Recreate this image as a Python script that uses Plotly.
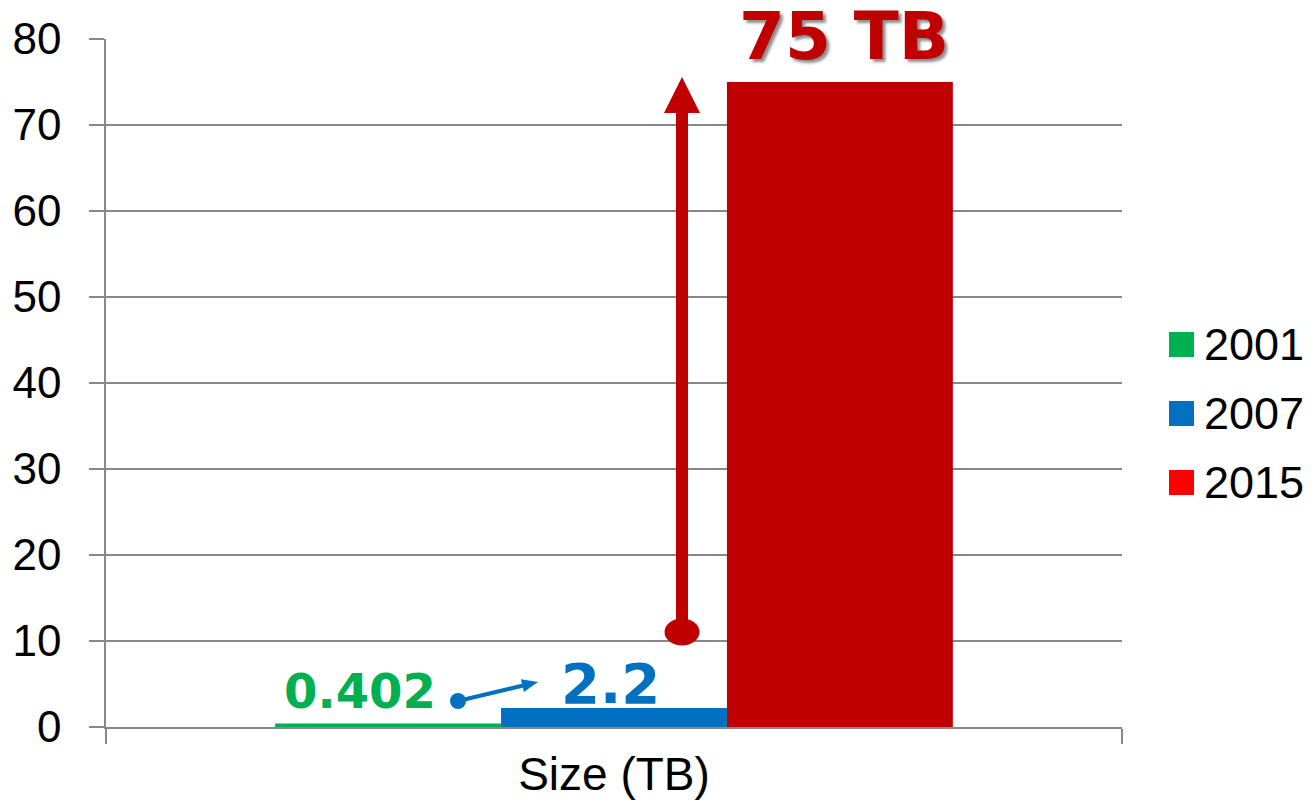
import plotly.graph_objects as go
import math

# ---- data ----
category = ["Size (TB)"]
years = ["2001", "2007", "2015"]
sizes_tb = [0.402, 2.2, 75]
bar_colors = ["#00B050", "#0070C0", "#C00000"]
legend_colors = ["#00B050", "#0070C0", "#FF0000"]
value_labels = ["0.402", "2.2", "75 TB"]
y_ticks = [0, 10, 20, 30, 40, 50, 60, 70, 80]

# ---- layout geometry (screen pixels; page body has an 8px margin) ----
OFF = 8
SW, SH = 1316, 812
PX0, PX1 = 106, 1122      # plot area left/right on screen
PY0, PY1 = 39, 727        # plot area top/bottom on screen
W, H = SW - OFF, SH - OFF
L, T = PX0 - OFF, PY0 - OFF
R, B = W - (PX1 - OFF), H - (PY1 - OFF)
PW, PH = PX1 - PX0, PY1 - PY0
YMAX = 80
GRID = "#888888"
FONT = "Liberation Sans, Arial, sans-serif"
BOLD = "DejaVu Sans, Verdana, sans-serif"


def px2x(px):
    return (px - PX0) / PW - 0.5


def px2y(py):
    return (PY1 - py) / PH * YMAX


def px2paper(px, py):
    return (px - PX0) / PW, (PY1 - py) / PH


fig = go.Figure()
for yr, v, c in zip(years, sizes_tb, bar_colors):
    fig.add_trace(go.Bar(x=category, y=[v], name=yr, marker_color=c,
                         marker_line_width=0, showlegend=False))

shapes = []
annotations = []


def arrow(x0, y0, x1, y1, color, lw, head_len, head_w, r_x, r_y):
    dx = (x1 - x0) * PW
    dy = (y1 - y0) * PH / YMAX
    n = math.hypot(dx, dy)
    ux, uy = dx / n, dy / n
    px_, py_ = -uy, ux
    bx, by = -head_len * ux, -head_len * uy
    xe = x1 + (bx + ux * 2) / PW
    ye = y1 + (by + uy * 2) / (PH / YMAX)
    shapes.append(dict(type="line", xref="x", yref="y", x0=x0, y0=y0, x1=xe, y1=ye,
                       line=dict(color=color, width=lw)))
    path = "M0,0 L{:.2f},{:.2f} L{:.2f},{:.2f} Z".format(
        bx + head_w / 2 * px_, by + head_w / 2 * py_,
        bx - head_w / 2 * px_, by - head_w / 2 * py_)
    shapes.append(dict(type="path", xref="x", yref="y", xsizemode="pixel", ysizemode="pixel",
                       xanchor=x1, yanchor=y1, path=path,
                       fillcolor=color, line=dict(color=color, width=0)))
    shapes.append(dict(type="circle", xref="x", yref="y", xsizemode="pixel", ysizemode="pixel",
                       xanchor=x0, yanchor=y0, x0=-r_x, x1=r_x, y0=-r_y, y1=r_y,
                       fillcolor=color, line=dict(color=color, width=0)))


# blue arrow: 0.402 -> 2.2
arrow(px2x(458), px2y(701), px2x(538), px2y(682), "#0070C0", 4, 16, 13, 8, 8)
# red arrow: up to 75 TB
arrow(px2x(682), px2y(632), px2x(682), px2y(77), "#C00000", 12, 36, 36, 17.5, 13.5)


def label(text, cx, cy, size, color, shadow="none"):
    xp, yp = px2paper(cx, cy)
    annotations.append(dict(x=xp, y=yp, xref="paper", yref="paper", text=text,
                            showarrow=False,
                            font=dict(family=BOLD, size=size, color=color, weight="bold",
                                      shadow=shadow),
                            xanchor="center", yanchor="middle"))


label(value_labels[0], 360, 691, 48, bar_colors[0])
label(value_labels[1], 610, 683, 56, bar_colors[1])
label(value_labels[2], 844, 36, 66, bar_colors[2], "3px 3px 3px rgba(0,0,0,0.45)")

# manual legend (large square keys)
leg_y_px = [344.5, 413.5, 482.5]
for yr, c, ypx in zip(years, legend_colors, leg_y_px):
    xk, yk = px2paper(1181.5, ypx)
    shapes.append(dict(type="rect", xref="paper", yref="paper", xsizemode="pixel",
                       ysizemode="pixel", xanchor=xk, yanchor=yk,
                       x0=-12.5, x1=12.5, y0=-12.5, y1=12.5,
                       fillcolor=c, line=dict(width=0)))
    xt, _ = px2paper(1202, ypx)
    annotations.append(dict(x=xt, y=yk, xref="paper", yref="paper", text=yr,
                            showarrow=False, xanchor="left", yanchor="middle",
                            font=dict(family=FONT, size=45, color="black")))

fig.update_layout(
    width=W, height=H,
    margin=dict(l=L, r=R, t=T, b=B, pad=0, autoexpand=False),
    paper_bgcolor="white", plot_bgcolor="white",
    barmode="group", bargap=0.333, bargroupgap=0,
    showlegend=False,
    shapes=shapes, annotations=annotations,
    font=dict(family=FONT, size=40, color="black"),
)
fig.update_yaxes(range=[0, YMAX], tickvals=y_ticks, showgrid=True, gridcolor=GRID,
                 gridwidth=1.5, showline=True, linecolor=GRID, linewidth=1.5,
                 ticks="outside", ticklen=15, tickcolor=GRID, tickwidth=1.5,
                 tickfont=dict(family=FONT, size=44, color="black"),
                 ticklabelstandoff=19, zeroline=False, fixedrange=True, automargin=False)
fig.update_xaxes(type="category", range=[-0.5, 0.5], showline=True, linecolor=GRID,
                 linewidth=1.5, ticks="outside", ticklen=15, tickcolor=GRID, tickwidth=1.5,
                 tickson="boundaries", showgrid=False,
                 tickfont=dict(family=FONT, size=46, color="black"),
                 ticklabelstandoff=6, fixedrange=True, automargin=False)

fig.write_html("out.html", config={"displayModeBar": False})
